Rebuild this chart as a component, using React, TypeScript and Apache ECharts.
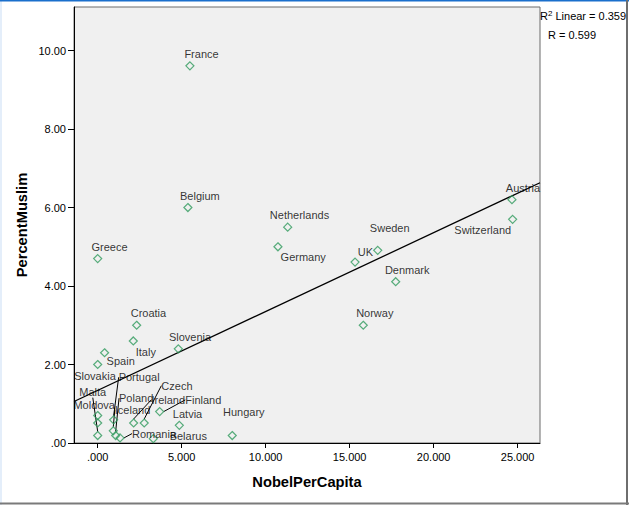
import React, { useEffect, useRef } from "react";
import * as echarts from "echarts";

const FONT = "'Liberation Sans', Arial, Helvetica, sans-serif";

const countries = [
  "France", "Belgium", "Greece", "Netherlands", "Germany", "UK", "Sweden", "Denmark", "Norway",
  "Austria", "Switzerland", "Croatia", "Italy", "Slovenia", "Spain", "Slovakia", "Moldova",
  "Lithuania", "Malta", "Portugal", "Iceland", "Poland", "Romania", "Ireland", "Czech",
  "Finland", "Latvia", "Belarus", "Hungary",
];
const nobelPerCapita = [
  5.49, 5.37, 0.0, 11.31, 10.73, 15.32, 16.67, 17.74, 15.81,
  24.66, 24.7, 2.32, 2.12, 4.8, 0.41, 0.0, 0.0,
  0.0, 0.0, 0.95, 0.93, 1.07, 1.33, 2.14, 2.77,
  3.69, 4.86, 3.31, 8.01,
];
const percentMuslim = [
  9.61, 6.0, 4.7, 5.5, 5.0, 4.61, 4.91, 4.11, 3.0,
  6.2, 5.7, 3.0, 2.6, 2.4, 2.3, 2.0, 0.7,
  0.51, 0.19, 0.59, 0.31, 0.19, 0.13, 0.51, 0.51,
  0.8, 0.45, 0.11, 0.19,
];
const unlabeled = ["Lithuania"];
const withLeader = ["Malta", "Portugal", "Iceland", "Poland", "Romania", "Ireland", "Czech", "Finland"];

// label centre offsets (px) relative to the marker
const labelOffsets: Record<string, [number, number]> = {
  France: [11.6, -11.4], Belgium: [12, -11.7], Greece: [11.8, -11.4], Netherlands: [11.8, -12.3],
  Germany: [25.3, 10.3], UK: [10.3, -10.3], Sweden: [12, -22.4], Denmark: [11.5, -11.7],
  Norway: [11.5, -12], Austria: [11, -11.7], Switzerland: [-29.9, 10.7], Croatia: [11.8, -12],
  Italy: [12.5, 11], Slovenia: [11.7, -12], Spain: [16.1, 8.3], Slovakia: [-2.7, 11],
  Moldova: [-3.5, -10.3], Lithuania: [0, 0], Malta: [-4.9, -43.4], Portugal: [25.5, -42.6],
  Iceland: [19.2, -21], Poland: [20.5, -37.4], Romania: [34, -4.3], Ireland: [34.6, -23.3],
  Czech: [32.7, -37.3], Finland: [43.6, -11.7], Latvia: [8.2, -11.7], Belarus: [35, -3],
  Hungary: [11.5, -23.4],
};

const fitIntercept = 1.34;
const fitSlope = 0.201;
const rSquared = "0.359";
const rValue = "0.599";

const X_MIN = -1.41;
const X_MAX = 26.33;
const Y_MIN = 0;
const Y_MAX = 11.11;
const xTicks = [0, 5, 10, 15, 20, 25];
const yTicks = [0, 2, 4, 6, 8, 10];

export default function App() {
  const ref = useRef<HTMLDivElement>(null);
  useEffect(() => {
    if (!ref.current) return;
    const chart = echarts.init(ref.current, null, { renderer: "svg" });
    const fitData = [X_MIN, X_MAX].map((x) => [x, fitIntercept + fitSlope * x]);
    const option: any = {
      animation: false,
      backgroundColor: "#ffffff",
      textStyle: { fontFamily: FONT },
      grid: {
        left: 74, top: 7, width: 466, height: 436,
        show: true, backgroundColor: "#f0f0f0", borderColor: "#6a6a6a", borderWidth: 1,
        containLabel: false, outerBoundsMode: "none",
      },
      xAxis: {
        type: "value", min: X_MIN, max: X_MAX,
        name: "NobelPerCapita", nameLocation: "middle", nameGap: 31, nameMoveOverlap: false,
        nameTextStyle: { fontSize: 14.7, fontWeight: "bold", color: "#000", fontFamily: FONT },
        axisLine: { onZero: false, lineStyle: { color: "#000", width: 1 } },
        axisTick: { show: true, length: 5, customValues: xTicks, lineStyle: { color: "#000" } },
        axisLabel: {
          customValues: xTicks, color: "#000", fontSize: 11, margin: 8, fontFamily: FONT,
          formatter: (v: number) => (v === 0 ? ".000" : v.toFixed(3)),
        },
        splitLine: { show: false },
      },
      yAxis: {
        type: "value", min: Y_MIN, max: Y_MAX,
        name: "PercentMuslim", nameLocation: "middle", nameGap: 45, nameMoveOverlap: false,
        nameTextStyle: { fontSize: 14.7, fontWeight: "bold", color: "#000", fontFamily: FONT },
        axisLine: { show: true, onZero: false, lineStyle: { color: "#000", width: 1 } },
        axisTick: { show: true, length: 6, customValues: yTicks, lineStyle: { color: "#000" } },
        axisLabel: {
          customValues: yTicks, color: "#000", fontSize: 11, margin: 8, fontFamily: FONT,
          formatter: (v: number) => (v === 0 ? ".00" : v.toFixed(2)),
        },
        splitLine: { show: false },
      },
      series: [
        {
          type: "line", data: fitData, symbol: "none", silent: true,
          lineStyle: { color: "#000", width: 1.3 }, z: 2,
        },
        {
          type: "scatter", symbol: "diamond", symbolSize: 8, z: 3,
          itemStyle: { color: "rgba(0,0,0,0)", borderColor: "#2f9a5c", borderWidth: 1.2 },
          label: {
            show: true, position: "inside", formatter: "{b}", color: "#000",
            fontSize: 11, fontFamily: FONT, textBorderWidth: 0, textBorderColor: "transparent",
          },
          labelLine: { show: false, lineStyle: { color: "#000", width: 1 } },
          labelLayout: (p: any) => {
            const o = labelOffsets[countries[p.dataIndex]] || [0, -12];
            return { dx: o[0], dy: o[1] };
          },
          data: countries.map((c, i) => ({
            name: c,
            value: [nobelPerCapita[i], percentMuslim[i]],
            label: { show: !unlabeled.includes(c) },
            labelLine: { show: withLeader.includes(c), lineStyle: { color: "#000", width: 1 } },
          })),
        },
      ],
      graphic: [
        { type: "rect", shape: { x: 0, y: 0, width: 2, height: 505 }, style: { fill: "#e4eefa" }, silent: true },
        { type: "rect", shape: { x: 0, y: 0, width: 629, height: 1.5 }, style: { fill: "#1a6fcc" }, silent: true },
        { type: "rect", shape: { x: 626, y: 0, width: 2, height: 505 }, style: { fill: "#6e6e6e" }, silent: true },
        { type: "rect", shape: { x: 0, y: 502.5, width: 629, height: 2 }, style: { fill: "#7a7a7a" }, silent: true },
        {
          type: "text", left: 540, top: 9.5, silent: true,
          style: {
            text: "R{sup|2} Linear = " + rSquared,
            fill: "#000", fontSize: 11, fontFamily: FONT,
            rich: { sup: { fontSize: 8, verticalAlign: "top", fill: "#000", fontFamily: FONT, padding: [0, 0, 4, 0] } },
          },
        },
        {
          type: "text", left: 548, top: 29, silent: true,
          style: { text: "R = " + rValue, fill: "#000", fontSize: 11, fontFamily: FONT },
        },
      ],
    };
    chart.setOption(option);
    return () => chart.dispose();
  }, []);
  return (
    <div
      ref={ref}
      style={{ position: "fixed", left: 0, top: 0, width: 629, height: 505, background: "#fff" }}
    />
  );
}
